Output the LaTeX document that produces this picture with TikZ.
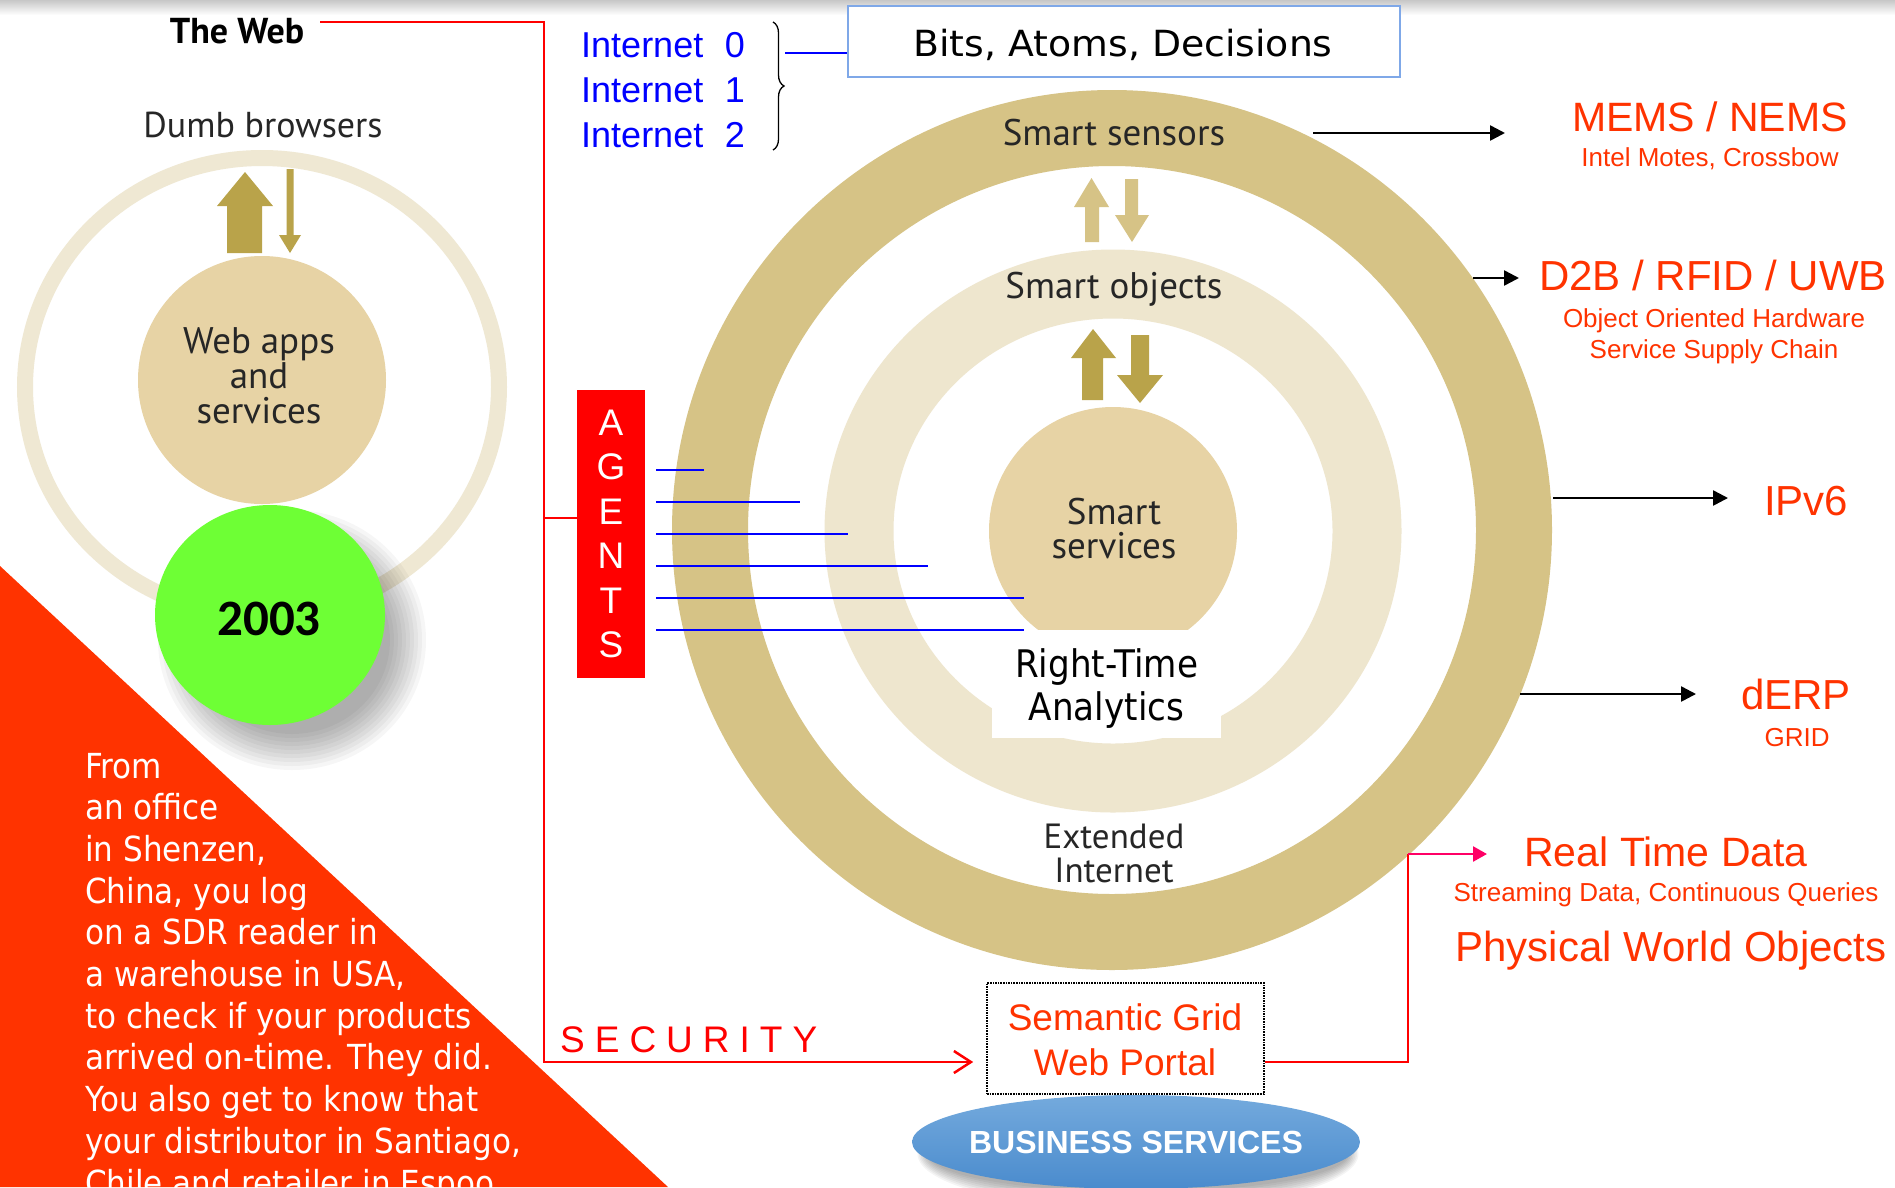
\documentclass[tikz,border=0pt]{standalone}
\usepackage{fontspec}
\setmainfont{Liberation Sans}
\newfontfamily\myr{PT Sans}
\newfontfamily\tah[FakeStretch=0.9]{DejaVu Sans}
\newfontfamily\verdw[FakeStretch=1.05]{DejaVu Sans}
\newfontfamily\calfam{Carlito}
\usetikzlibrary{arrows.meta,decorations.pathreplacing,shapes.geometric}
\definecolor{darktan}{HTML}{D6C386}
\definecolor{lighttan}{HTML}{EEE6CE}
\definecolor{midtan}{HTML}{E7D3A5}
\definecolor{webring}{HTML}{EFE8D3}
\definecolor{gold}{HTML}{B9A34A}
\definecolor{orng}{HTML}{FF3300}
\definecolor{redl}{HTML}{FF0000}
\definecolor{bluel}{HTML}{0000FF}
\definecolor{grn}{HTML}{6EFF35}
\definecolor{pinkl}{HTML}{FF0066}
\definecolor{boxblue}{HTML}{7FA8E8}
\definecolor{bizt}{HTML}{74AADD}
\definecolor{bizb}{HTML}{4A8BCD}
\newcommand{\pxsize}[2]{\fontsize{#1}{#2}\selectfont}
\tikzset{
  redln/.style={draw=redl, line width=2.5pt},
  blkarr/.style={draw=black, line width=2.5pt, -{Triangle[length=15pt,width=15pt]}},
  blueln/.style={draw=bluel, line width=2.5pt},
  ringlbl/.style={font=\myr\pxsize{37}{34}, text=black!85, anchor=base, inner sep=0},
  redlbl/.style={text=orng, anchor=base, inner sep=0},
  bigred/.style={redlbl, font=\pxsize{42}{48}},
  smallred/.style={redlbl, font=\pxsize{26}{30}},
}
\begin{document}
\begin{tikzpicture}[x=1pt,y=-1pt]
\useasboundingbox (0,0) rectangle (1895,1187);
\fill[white] (0,0) rectangle (1895,1187);
\begin{scope}
\clip (0,0) rectangle (1895,1187);
% top shadow
\shade[top color=black!22, bottom color=white] (0,0) rectangle (1895,15);

% ===== right rings =====
\draw[darktan, line width=76pt] (1112,530) circle [radius=402];
\draw[lighttan, line width=69pt] (1113,531) ellipse [x radius=254, y radius=247];
\fill[midtan] (1113,531) circle [radius=124];
\fill[white] (992,630) rectangle (1221,738);
% arrows between rings
\fill[darktan] (1085,242) -- (1085,207) -- (1074,207) -- (1091.5,178) -- (1109,207) -- (1099,207) -- (1099,242) -- cycle;
\fill[darktan] (1125,179) -- (1138,179) -- (1138,215) -- (1149,215) -- (1132,242) -- (1115,215) -- (1125,215) -- cycle;
\fill[gold] (1082,400) -- (1082,358) -- (1071,358) -- (1093,329) -- (1116,358) -- (1103,358) -- (1103,400) -- cycle;
\fill[gold] (1131,335) -- (1149,335) -- (1149,375) -- (1163,375) -- (1140,403) -- (1117,375) -- (1131,375) -- cycle;

\node[ringlbl] (sensors) at (1114,145) {Smart sensors};
\node[ringlbl] (objects) at (1114,298) {Smart objects};
\node[ringlbl, align=center] (services) at (1114,558) {Smart\\services};
\node[anchor=base, inner sep=0, font=\tah\pxsize{38}{43}, align=center] (rta) at (1106.5,720) {Right-Time\\Analytics};
\node[ringlbl, font=\myr\pxsize{35}{34}, align=center] (ext) at (1114,882) {Extended\\Internet};

% ===== left web circle =====
\draw[webring, line width=16pt] (262,387) ellipse [x radius=237, y radius=229];
\fill[midtan] (262,380) circle [radius=124];
\fill[gold] (227,253) -- (227,206) -- (217,206) -- (245,172) -- (273,206) -- (262,206) -- (262,253) -- cycle;
\fill[gold] (286.5,169) -- (293.5,169) -- (293.5,235) -- (301,235) -- (290,253) -- (279,235) -- (286.5,235) -- cycle;
\node[anchor=base, inner sep=0, font=\myr\bfseries\pxsize{36}{40}] (theweb) at (237,43) {The Web};
\node[anchor=base, inner sep=0, font=\myr\pxsize{36}{40}, text=black!85] (dumb) at (263,137) {Dumb browsers};
\node[anchor=base, inner sep=0, font=\myr\pxsize{37}{35}, text=black!85, align=center] (webapps) at (259,423) {Web apps\\and\\services};

% orange triangle
\fill[orng] (0,566) -- (668,1187) -- (0,1187) -- cycle;
\foreach \t [count=\i from 0] in {From,an office,{in Shenzen,},{China, you log},on a SDR reader in,{a warehouse in USA,},to check if your products,{arrived on-time. They did.},You also get to know that,{your distributor in Santiago,},Chile and retailer in Espoo}
  \node[anchor=base west, inner sep=0, text=white, font=\tah\pxsize{34.5}{42}] (story\i) at (85,{778+41.7*\i}) {\t};

% 2003 circle with shadow
\foreach \k in {0,...,9}
  \fill[black, opacity=0.035] (292,640) ellipse [x radius={98+4*\k}, y radius={94+4*\k}];
\fill[grn] (270,615) ellipse [x radius=115, y radius=110];
\node[anchor=base, inner sep=0, font=\calfam\bfseries\pxsize{51}{55}] (yr) at (269,635) {2003};

% ===== top: internet labels, brace, box =====
\node[anchor=base west, inner sep=0, text=bluel, font=\pxsize{36}{40}] (i0) at (581,57) {Internet\hspace{0.6em}0};
\node[anchor=base west, inner sep=0, text=bluel, font=\pxsize{36}{40}] (i1) at (581,102) {Internet\hspace{0.6em}1};
\node[anchor=base west, inner sep=0, text=bluel, font=\pxsize{36}{40}] (i2) at (581,147) {Internet\hspace{0.6em}2};
\coordinate (brt) at (773,22);
\coordinate (brb) at (773,150);
\draw[line width=1.3pt, decorate, decoration={brace, amplitude=11pt}] (brt) -- (brb);
\node[draw=boxblue, line width=1.5pt, fill=white, minimum width=552pt, minimum height=71pt, inner sep=0] (bits) at (1124,41.5) {};
\node[anchor=base, inner sep=0, font=\verdw\pxsize{36}{40}] (bitst) at (1123,56) {Bits, Atoms, Decisions};
\coordinate (bl) at (785,53);
\draw[blueln] (bl) -- (bl -| bits.west);

% ===== agents =====
\node[fill=redl, minimum width=68pt, minimum height=288pt, inner sep=0, text=white, font=\pxsize{37}{44.4}, align=center] (agents) at (611,534) {A\\G\\E\\N\\T\\S};
\foreach \y/\e [count=\j] in {470/704,502/800,534/848,566/928,598/1024,630/1024}{
  \coordinate (as\j) at (656,\y);
  \coordinate (ae\j) at (\e,\y);
  \draw[blueln] (as\j) -- (ae\j);
}

% ===== red frame & security =====
\coordinate (rw) at (320,22);
\coordinate (rt) at (544,22);
\coordinate (rb) at (544,1062);
\coordinate (ra) at (544,518);
\node[draw=black, densely dotted, line width=1.6pt, minimum width=277pt, minimum height=111pt, inner sep=0] (portal) at (1125.5,1038.5) {};
\node[anchor=base, inner sep=0, text=orng, font=\pxsize{37}{45}, align=center] (portalt) at (1125,1075) {Semantic Grid\\Web Portal};
\draw[redln, -{Straight Barb[length=17pt,width=22pt,line width=2.5pt]}, shorten >=13pt] (rw) -- (rt) -- (rb) -- (rb -| portal.west);
\draw[redln] (ra) -- (ra -| agents.west);
\node[anchor=base west, inner sep=0, text=redl, font=\pxsize{37}{40}] (sec) at (560,1052) {S\kern10pt E\kern10pt C\kern10pt U\kern10pt R\kern10pt I\kern10pt T\kern10pt Y};

% ===== business services =====
\foreach \k in {0,...,7}
  \fill[black, opacity=0.045] (1138,1154) ellipse [x radius={210+1.5*\k}, y radius={38+2.5*\k}];
\shade[top color=bizt, bottom color=bizb] (1136,1142) ellipse [x radius=224, y radius=47];
\node[anchor=base, inner sep=0, text=white, font=\bfseries\pxsize{32}{36}] (biz) at (1136,1153) {BUSINESS SERVICES};

% ===== right arrows & labels =====
\coordinate (a1s) at (1313,133); \coordinate (a1e) at (1505,133);
\coordinate (a2s) at (1473,278); \coordinate (a2e) at (1519,278);
\coordinate (a3s) at (1553,498); \coordinate (a3e) at (1728,498);
\coordinate (a4s) at (1520,694); \coordinate (a4e) at (1696,694);
\draw[blkarr] (a1s) -- (a1e);
\draw[blkarr] (a2s) -- (a2e);
\draw[blkarr] (a3s) -- (a3e);
\draw[blkarr] (a4s) -- (a4e);
\node[redlbl, font=\pxsize{41}{48}] (mems) at (1710,131) {MEMS / NEMS};
\node[smallred] (intel) at (1710,166) {Intel Motes, Crossbow};
\node[bigred] (d2b) at (1713,290) {D2B / RFID / UWB};
\node[smallred] (ooh) at (1714,327) {Object Oriented Hardware};
\node[smallred] (ssc) at (1714,358) {Service Supply Chain};
\node[bigred] (ipv6) at (1806,515) {IPv6};
\node[bigred] (derp) at (1796,709) {dERP};
\node[smallred] (grid) at (1797,746) {GRID};
\node[redlbl, font=\pxsize{41}{48}] (rtd) at (1666,866) {Real Time Data};
\node[smallred] (sdq) at (1666,901) {Streaming Data, Continuous Queries};
\node[bigred] (pwo) at (1671,961) {Physical World Objects};

\coordinate (pk1) at (1408,1062);
\coordinate (pk2) at (1408,854);
\coordinate (pk3) at (1487,854);
\draw[redln] (portal.east |- pk1) -- (pk1) -- (pk2);
\draw[draw=pinkl, line width=2.5pt, -{Triangle[length=14pt,width=15pt]}] (pk2) -- (pk3);
\end{scope}
\end{tikzpicture}
\end{document}
